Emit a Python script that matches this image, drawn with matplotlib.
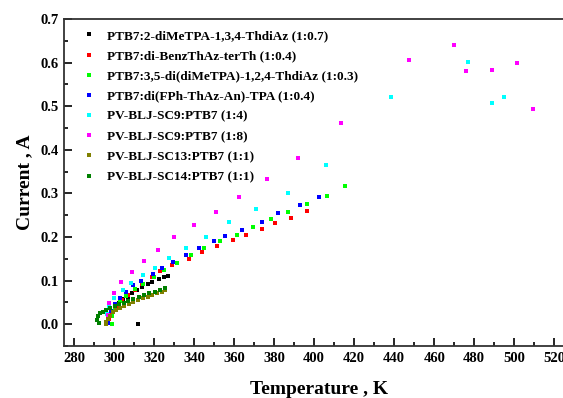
import matplotlib
matplotlib.use("Agg")
import matplotlib.pyplot as plt
from matplotlib.ticker import MultipleLocator

plt.rcParams['font.family'] = ['Liberation Serif', 'DejaVu Serif']
plt.rcParams['font.weight'] = 'bold'

labels = [
    "PTB7:2-diMeTPA-1,3,4-ThdiAz (1:0.7)",
    "PTB7:di-BenzThAz-terTh (1:0.4)",
    "PTB7:3,5-di(diMeTPA)-1,2,4-ThdiAz (1:0.3)",
    "PTB7:di(FPh-ThAz-An)-TPA (1:0.4)",
    "PV-BLJ-SC9:PTB7 (1:4)",
    "PV-BLJ-SC9:PTB7 (1:8)",
    "PV-BLJ-SC13:PTB7 (1:1)",
    "PV-BLJ-SC14:PTB7 (1:1)",
]
colors = ["#000000", "#ff0000", "#00ff00", "#0000ff", "#00ffff", "#ff00ff", "#808000", "#008000"]

t_black = [300.6, 302.4, 304.6, 306.9, 309.1, 311.4, 314.1, 317.0, 319.1, 322.3, 324.8, 327.2, 311.8]
i_black = [0.038, 0.048, 0.057, 0.063, 0.072, 0.078, 0.086, 0.093, 0.097, 0.104, 0.108, 0.110, 0.000]

t_red = [297.6, 298.8, 301.5, 304.2, 306.9, 310.7, 314.1, 318.9, 323.2, 329.1, 337.6, 344.2, 351.4, 359.3, 366.1, 374.0, 380.6, 388.5, 396.6]
i_red = [0.011, 0.027, 0.042, 0.055, 0.066, 0.078, 0.093, 0.108, 0.122, 0.135, 0.150, 0.165, 0.179, 0.193, 0.204, 0.218, 0.231, 0.244, 0.259]

t_lime = [299.0, 298.8, 300.3, 303.1, 305.8, 310.5, 314.6, 320.2, 325.0, 331.3, 338.3, 345.0, 352.8, 361.3, 369.5, 378.5, 386.7, 396.6, 406.5, 415.6]
i_lime = [0.001, 0.019, 0.038, 0.053, 0.065, 0.081, 0.093, 0.108, 0.124, 0.141, 0.158, 0.174, 0.190, 0.205, 0.222, 0.242, 0.258, 0.275, 0.295, 0.317]

t_blue = [297.2, 298.3, 300.6, 303.0, 306.0, 309.6, 313.7, 319.3, 324.1, 329.7, 336.0, 342.6, 350.1, 355.7, 363.9, 373.8, 382.1, 392.8, 402.3]
i_blue = [0.002, 0.030, 0.047, 0.059, 0.074, 0.089, 0.100, 0.115, 0.129, 0.143, 0.158, 0.174, 0.191, 0.202, 0.215, 0.235, 0.256, 0.274, 0.292]

t_cyan = [296.5, 297.6, 300.1, 304.4, 308.7, 314.3, 320.7, 327.5, 336.0, 346.0, 357.7, 371.1, 386.7, 406.1, 438.2, 477.0, 489.0, 494.9]
i_cyan = [0.023, 0.042, 0.059, 0.078, 0.095, 0.112, 0.129, 0.151, 0.174, 0.199, 0.234, 0.265, 0.301, 0.366, 0.522, 0.602, 0.508, 0.522]

t_mag = [297.2, 297.6, 299.9, 303.7, 308.9, 314.8, 322.2, 330.2, 340.1, 350.9, 362.7, 376.5, 392.1, 413.5, 447.4, 469.8, 475.9, 488.8, 501.2, 509.6]
i_mag = [0.022, 0.049, 0.072, 0.096, 0.120, 0.144, 0.170, 0.199, 0.227, 0.258, 0.291, 0.333, 0.381, 0.461, 0.605, 0.641, 0.581, 0.582, 0.600, 0.493]

t_olive = [295.8, 296.1, 296.9, 297.9, 299.4, 301.0, 303.0, 305.0, 307.3, 309.6, 311.9, 314.4, 316.8, 319.1, 321.6, 323.9, 325.7]
i_olive = [0.000, 0.005, 0.011, 0.019, 0.027, 0.033, 0.037, 0.042, 0.046, 0.051, 0.055, 0.059, 0.062, 0.066, 0.071, 0.074, 0.078]

t_green = [292.7, 291.3, 292.0, 293.1, 294.4, 295.8, 297.9, 300.3, 302.4, 304.8, 307.1, 309.6, 312.3, 315.0, 317.7, 320.4, 323.0, 325.7]
i_green = [0.002, 0.010, 0.019, 0.025, 0.029, 0.033, 0.037, 0.042, 0.046, 0.049, 0.053, 0.058, 0.062, 0.066, 0.071, 0.075, 0.079, 0.083]

series_t = [t_black, t_red, t_lime, t_blue, t_cyan, t_mag, t_olive, t_green]
series_i = [i_black, i_red, i_lime, i_blue, i_cyan, i_mag, i_olive, i_green]

W, H = 563, 398
fig = plt.figure(figsize=(W / 100, H / 100), dpi=100)
left, right = 64 / W, 1.02
bottom, top = 1 - 346 / H, 1 - 19 / H
ax = fig.add_axes([left, bottom, right - left, top - bottom])

for t, i, c, lab in zip(series_t, series_i, colors, labels):
    ax.plot(t, i, ls='none', marker='s', ms=3.3, mew=0, color=c, label=lab)

ax.set_xlim(275, 530)
ax.set_ylim(-0.05, 0.7)
ax.xaxis.set_major_locator(MultipleLocator(20))
ax.xaxis.set_minor_locator(MultipleLocator(10))
ax.yaxis.set_major_locator(MultipleLocator(0.1))
ax.yaxis.set_minor_locator(MultipleLocator(0.05))
ax.yaxis.set_major_formatter(matplotlib.ticker.FormatStrFormatter('%.1f'))
ax.tick_params(which='both', direction='in', labelsize=10.5, top=False, right=False, width=1.2)
ax.tick_params(which='major', length=5.5, pad=4)
ax.tick_params(which='minor', length=3)
for lab in ax.get_xticklabels() + ax.get_yticklabels():
    lab.set_fontweight('bold')
for s in ax.spines.values():
    s.set_linewidth(1.3)
    s.set_color('#333333')

ax.set_xlabel("Temperature , K", fontsize=14, fontweight='bold', labelpad=12)
ax.set_ylabel("Current , A", fontsize=14, fontweight='bold', labelpad=5)

leg = ax.legend(loc='upper left', bbox_to_anchor=(0.025, 0.983), frameon=False,
                fontsize=9.5, handlelength=1.0, handletextpad=0.9, labelspacing=0.6,
                markerscale=1.0, borderaxespad=0)
for txt in leg.get_texts():
    txt.set_fontweight('bold')

fig.savefig("out.png", dpi=100)
